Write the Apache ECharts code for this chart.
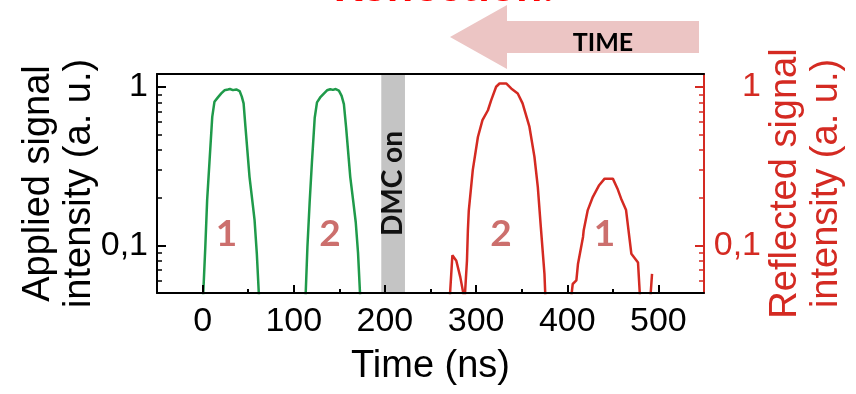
<!DOCTYPE html>
<html>
<head>
<meta charset="utf-8">
<script src="https://cdn.jsdelivr.net/npm/echarts@6/dist/echarts.min.js"></script>
<style>
  html, body { margin: 0; padding: 0; background: #ffffff; }
  #chart { width: 856px; height: 394px; }
</style>
</head>
<body>
<div id="chart"></div>
<script>
// Applied pulses [time (ns), intensity (a.u.)]; null separates the two pulses
const appliedPulses = [
  [0, 0.04], [3, 0.098], [5, 0.193], [7.7, 0.347], [10.6, 0.649], [13, 0.807],
  [16.8, 0.861], [20.5, 0.912], [24, 0.955], [27.8, 0.966], [30, 0.973],
  [33.3, 0.957], [37, 0.966], [40.6, 0.944], [43, 0.871], [45, 0.789],
  [47, 0.562], [51.5, 0.27], [55, 0.182], [57, 0.145], [59.5, 0.0885], [62.5, 0.04],
  null,
  [112.5, 0.04], [115, 0.098], [117.5, 0.19], [120, 0.34], [123, 0.64], [125.5, 0.80],
  [129, 0.86], [133, 0.91], [136.5, 0.955], [140, 0.97], [143, 0.96],
  [146, 0.972], [149.5, 0.95], [152.5, 0.88], [155, 0.78], [157.5, 0.55],
  [162, 0.27], [165.5, 0.185], [168, 0.14], [170.5, 0.09], [173.5, 0.04]
];

// Reflected pulses [time (ns), intensity (a.u.)]
const reflectedPulses = [
  [271, 0.045], [274, 0.0865], [275.4, 0.0885], [278.3, 0.080], [282.7, 0.063], [287.4, 0.045],
  [288.5, 0.045], [290, 0.080], [291, 0.124], [292, 0.166], [296.4, 0.30], [302, 0.484],
  [307, 0.618], [313, 0.714], [316.6, 0.828], [322, 1.005], [325.7, 1.054],
  [333, 1.054], [338.5, 0.98], [345.7, 0.912], [351, 0.789], [358.5, 0.562],
  [364, 0.363], [367.7, 0.234], [371, 0.131], [375, 0.066], [376.5, 0.04],
  null,
  [404, 0.045], [406, 0.057], [410, 0.060], [411.8, 0.0766], [417.3, 0.113],
  [418, 0.124], [422.5, 0.167], [428, 0.202], [435, 0.24], [441, 0.264],
  [450, 0.264], [455, 0.229], [459, 0.198], [464.5, 0.167], [470.3, 0.0886],
  [477.6, 0.078], [480, 0.045],
  null,
  [491, 0.045], [493, 0.066]
];

const timeTicks = [0, 100, 200, 300, 400, 500];
const timeMinorTicks = [50, 150, 250, 350, 450];
const intensityLabels = [0.1, 1];
const intensityMinorTicks = [0.06, 0.07, 0.08, 0.09, 0.2, 0.3, 0.4, 0.5, 0.6, 0.7, 0.8, 0.9];
const dmcWindow = [196, 222];
const pulseTags = [
  { name: '1', value: [26.3, 0.1186] },
  { name: '2', value: [139.8, 0.1186] },
  { name: '2', value: [327.4, 0.1186] },
  { name: '1', value: [440.8, 0.1186] }
];

const SANS = '"Liberation Sans", Arial, sans-serif';
const BOLD = 'Lato, "Open Sans", sans-serif';
const GREEN = '#1f9a4a';
const RED = '#d42a22';

const fmtIntensity = v => String(Number(v.toPrecision(3))).replace('.', ',');

const yBase = {
  type: 'log', logBase: 10, min: 0.05, max: 1.21,
  splitLine: { show: false }, z: 5
};

// Each intensity scale: one axis for the line, labels and minor ticks, one for the longer decade ticks
function intensityAxes(side, color, title, nameGap, labelMargin) {
  return [
    Object.assign({}, yBase, {
      position: side,
      axisLine: { show: true, onZero: false, lineStyle: { color: color, width: 2 } },
      axisTick: { show: true, inside: true, length: 5, customValues: intensityMinorTicks,
                  lineStyle: { color: color, width: 1.5 } },
      axisLabel: { show: true, customValues: intensityLabels, formatter: fmtIntensity,
                   fontSize: 34, color: color, margin: labelMargin, align: 'right',
                   fontFamily: SANS },
      name: title, nameLocation: 'middle', nameRotate: 90, nameGap: nameGap,
      nameMoveOverlap: false,
      nameTextStyle: { fontSize: 38, lineHeight: 41, color: color, fontFamily: SANS }
    }),
    Object.assign({}, yBase, {
      position: side,
      axisLine: { show: false, onZero: false },
      axisTick: { show: true, inside: true, length: 9, customValues: intensityLabels,
                  lineStyle: { color: color, width: 2 } },
      axisLabel: { show: false }
    })
  ];
}

const chart = echarts.init(document.getElementById('chart'), null, { renderer: 'canvas' });

chart.setOption({
  animation: false,
  backgroundColor: '#ffffff',
  grid: { left: 157, right: 152, top: 74, bottom: 101, containLabel: false },
  xAxis: [
    {
      type: 'value', min: -50, max: 550, position: 'bottom', z: 5,
      splitLine: { show: false },
      axisLine: { show: true, onZero: false, lineStyle: { color: '#000', width: 2 } },
      axisTick: { show: true, inside: true, length: 8, customValues: timeTicks,
                  lineStyle: { color: '#000', width: 2 } },
      axisLabel: { show: true, customValues: timeTicks, fontSize: 34, color: '#000',
                   margin: 12, fontFamily: SANS },
      name: 'Time (ns)', nameLocation: 'middle', nameGap: 55,
      nameTextStyle: { fontSize: 38, color: '#000', fontFamily: SANS }
    },
    {
      type: 'value', min: -50, max: 550, position: 'bottom', z: 5,
      splitLine: { show: false },
      axisLine: { show: false, onZero: false },
      axisTick: { show: true, inside: true, length: 4, customValues: timeMinorTicks,
                  lineStyle: { color: '#000', width: 2 } },
      axisLabel: { show: false }
    },
    {
      type: 'value', min: -50, max: 550, position: 'top', z: 5,
      splitLine: { show: false },
      axisLine: { show: true, onZero: false, lineStyle: { color: '#000', width: 2 } },
      axisTick: { show: false },
      axisLabel: { show: false }
    }
  ],
  yAxis: [].concat(
    intensityAxes('left', '#000', 'Applied signal\nintensity (a. u.)', 57, 9),
    intensityAxes('right', RED, 'Reflected signal\nintensity (a. u.)', 61, 57)
  ),
  series: [
    {
      name: 'Applied', type: 'line', xAxisIndex: 0, yAxisIndex: 0,
      data: appliedPulses, showSymbol: false, smooth: false, connectNulls: false,
      clip: true,
      lineStyle: { color: GREEN, width: 2.5 },
      markArea: {
        silent: true,
        itemStyle: { color: '#c4c4c4' },
        label: {
          show: true, position: 'inside', rotate: 90, formatter: 'DMC on',
          fontSize: 28, fontWeight: 'bold', color: '#111', fontFamily: BOLD
        },
        data: [[{ xAxis: dmcWindow[0] }, { xAxis: dmcWindow[1] }]]
      }
    },
    {
      name: 'Reflected', type: 'line', xAxisIndex: 0, yAxisIndex: 2,
      data: reflectedPulses, showSymbol: false, smooth: false, connectNulls: false,
      clip: true,
      lineStyle: { color: RED, width: 2.5 }
    },
    {
      name: 'Pulse number', type: 'scatter', xAxisIndex: 0, yAxisIndex: 0,
      data: pulseTags, symbolSize: 1, itemStyle: { color: 'rgba(0,0,0,0)' },
      silent: true,
      label: {
        show: true, position: 'inside', formatter: p => p.name,
        fontSize: 37, fontWeight: 'bold', color: '#bf4b48', fontFamily: BOLD
      }
    }
  ],
  graphic: [
    {
      type: 'text', x: 554, y: -14, silent: true,
      style: { text: 'Reflection:', fill: '#ff0000', font: 'bold 46px ' + BOLD,
               align: 'right', verticalAlign: 'middle' }
    },
    {
      type: 'polygon', silent: true,
      shape: { points: [[450, 37], [507, 5], [507, 21], [699, 21], [699, 53], [507, 53], [507, 69]] },
      style: { fill: '#ecc5c4' }
    },
    {
      type: 'text', x: 603, y: 43, silent: true,
      style: { text: 'TIME', fill: '#000', font: 'bold 25px ' + BOLD,
               align: 'center', verticalAlign: 'middle' }
    }
  ]
});
</script>
</body>
</html>
